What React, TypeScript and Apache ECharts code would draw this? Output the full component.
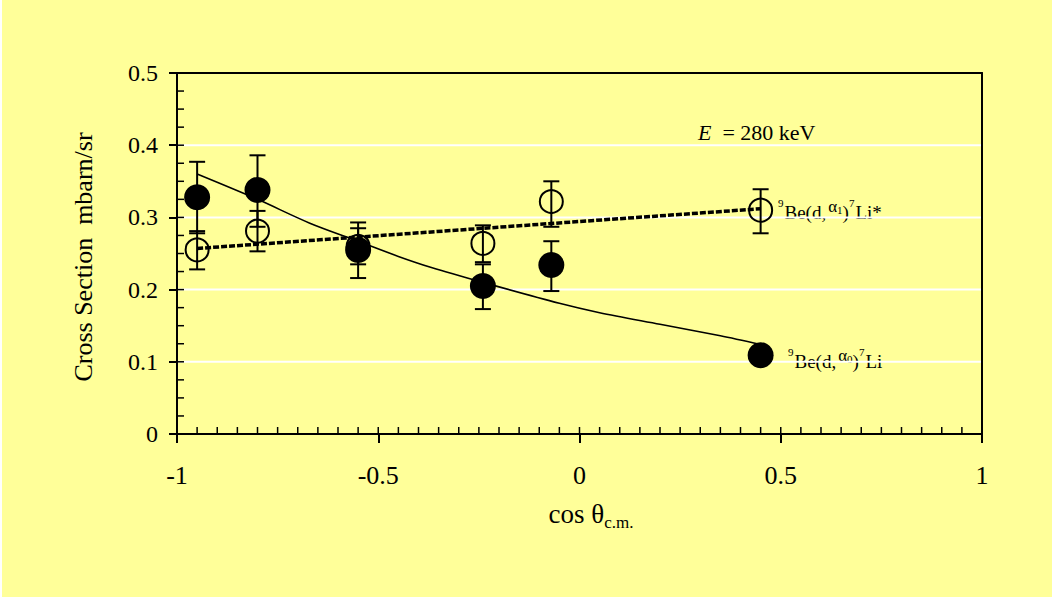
import React, { useEffect, useRef } from "react";
import * as echarts from "echarts";

// cos theta (c.m.) of the measured angles
const angles = [-0.95, -0.8, -0.55, -0.24, -0.07, 0.45];

// 9Be(d,alpha0)7Li  (filled circles)
const alpha0Y = [0.328, 0.338, 0.255, 0.205, 0.234, 0.109];
const alpha0Lo = [0.278, 0.287, 0.216, 0.173, 0.198, 0.097];
const alpha0Hi = [0.377, 0.386, 0.293, 0.235, 0.267, 0.121];

// 9Be(d,alpha1)7Li*  (open circles)
const alpha1Y = [0.255, 0.281, 0.26, 0.264, 0.322, 0.31];
const alpha1Lo = [0.228, 0.253, 0.235, 0.238, 0.287, 0.278];
const alpha1Hi = [0.281, 0.309, 0.285, 0.289, 0.35, 0.339];

// fitted curves
const fit0X = [-0.95, -0.8, -0.67, -0.55, -0.45, -0.37, -0.24, -0.05, 0.05, 0.2, 0.35, 0.45];
const fit0Y = [0.36, 0.325, 0.292, 0.267, 0.246, 0.231, 0.21, 0.181, 0.168, 0.152, 0.136, 0.124];
const fit1X = [-0.95, 0.45];
const fit1Y = [0.257, 0.312];

// axes
const xTicks = [-1, -0.5, 0, 0.5, 1];
const yTicks = [0, 0.1, 0.2, 0.3, 0.4, 0.5];

const SERIF = '"Liberation Serif", "Times New Roman", serif';

function errRender(params: any, api: any) {
  const x = api.value(0);
  const lo = api.value(1);
  const hi = api.value(2);
  const top = api.coord([x, hi]);
  const bot = api.coord([x, lo]);
  const w = 8;
  const style = { stroke: "#000", lineWidth: 2 };
  return {
    type: "group",
    children: [
      { type: "line", shape: { x1: top[0], y1: top[1], x2: bot[0], y2: bot[1] }, style },
      { type: "line", shape: { x1: top[0] - w, y1: top[1], x2: top[0] + w, y2: top[1] }, style },
      { type: "line", shape: { x1: bot[0] - w, y1: bot[1], x2: bot[0] + w, y2: bot[1] }, style },
    ],
  };
}

const labelRich = {
  n: { fontFamily: SERIF, fontSize: 19, fill: "#000", verticalAlign: "middle" },
  s: { fontFamily: SERIF, fontSize: 11, fill: "#000", verticalAlign: "middle", padding: [0, 1, 18, 0] },
  a: { fontFamily: SERIF, fontSize: 17, fill: "#000", verticalAlign: "middle", padding: [0, 0, 12, 2] },
  b: { fontFamily: SERIF, fontSize: 11, fill: "#000", verticalAlign: "middle", padding: [0, 0, 5, 0] },
};

export default function App() {
  const ref = useRef<HTMLDivElement>(null);

  useEffect(() => {
    document.body.style.margin = "0";
    const chart = echarts.init(ref.current!, null, { renderer: "svg" });

    const xMin = xTicks[0];
    const xMax = xTicks[xTicks.length - 1];
    const yMin = yTicks[0];
    const yMax = yTicks[yTicks.length - 1];

    const baseX = { type: "value", min: xMin, max: xMax, gridIndex: 0 };
    const baseY = { type: "value", min: yMin, max: yMax, gridIndex: 0 };

    const option: any = {
      animation: false,
      backgroundColor: "#ffffff",
      grid: { left: 177, right: 70, top: 73, bottom: 167, show: false },
      xAxis: [
        {
          ...baseX,
          position: "bottom",
          interval: 0.5,
          z: 1,
          axisLine: { show: true, onZero: false, lineStyle: { color: "#000", width: 2 } },
          axisTick: { show: true, inside: false, length: 9, lineStyle: { color: "#000", width: 2 } },
          minorTick: { show: false },
          axisLabel: {
            show: true,
            margin: 28,
            color: "#000",
            fontFamily: SERIF,
            fontSize: 26,
            formatter: (v: number) => String(v),
          },
          splitLine: { show: false },
        },
        {
          ...baseX,
          position: "top",
          interval: 0.5,
          z: 1,
          axisLine: { show: true, onZero: false, lineStyle: { color: "#000", width: 2 } },
          axisTick: { show: false },
          axisLabel: { show: false },
          splitLine: { show: false },
        },
      ],
      yAxis: [
        {
          ...baseY,
          position: "left",
          interval: 0.1,
          z: 1,
          axisLine: { show: true, onZero: false, lineStyle: { color: "#000", width: 2 } },
          axisTick: { show: true, inside: false, length: 8, lineStyle: { color: "#000", width: 2 } },
          axisLabel: {
            show: true,
            margin: 19,
            color: "#000",
            fontFamily: SERIF,
            fontSize: 24,
            formatter: (v: number) => String(Math.round(v * 10) / 10),
          },
          splitLine: { show: false },
        },
        {
          ...baseY,
          position: "right",
          interval: 0.1,
          z: 1,
          axisLine: { show: true, onZero: false, lineStyle: { color: "#000", width: 2 } },
          axisTick: { show: false },
          axisLabel: { show: false },
          splitLine: { show: false },
        },
      ],
      graphic: [
        {
          type: "rect",
          z: -10,
          silent: true,
          shape: { x: 2, y: 0, width: 1050, height: 597 },
          style: { fill: "#FFFF99" },
        },
        {
          type: "text",
          x: 83,
          y: 257,
          rotation: Math.PI / 2,
          style: {
            text: "Cross Section  mbarn/sr",
            font: `26px ${SERIF}`,
            fill: "#000",
            align: "center",
            verticalAlign: "middle",
          },
        },
        {
          type: "text",
          x: 591,
          y: 514,
          style: {
            text: "{a|cos θ}{b|c.m.}",
            align: "center",
            verticalAlign: "middle",
            rich: {
              a: { fontFamily: SERIF, fontSize: 27, fill: "#000", verticalAlign: "middle" },
              b: { fontFamily: SERIF, fontSize: 17, fill: "#000", verticalAlign: "middle", padding: [17, 0, 0, 0] },
            },
          },
        },
        {
          type: "text",
          x: 698,
          y: 132,
          style: {
            text: "{i|E}{n|  = 280 keV}",
            align: "left",
            verticalAlign: "middle",
            rich: {
              i: { fontFamily: SERIF, fontSize: 22, fontStyle: "italic", fill: "#000", verticalAlign: "middle" },
              n: { fontFamily: SERIF, fontSize: 22, fill: "#000", verticalAlign: "middle" },
            },
          },
        },
        {
          type: "text",
          x: 778,
          y: 212,
          style: {
            text: "{s|9}{n|Be(d,}{a|α}{b|1}{n|)}{s|7}{n|Li*}",
            align: "left",
            verticalAlign: "middle",
            rich: labelRich,
          },
        },
        {
          type: "text",
          x: 788,
          y: 361,
          style: {
            text: "{s|9}{n|Be(d,}{a|α}{b|0}{n|)}{s|7}{n|Li}",
            align: "left",
            verticalAlign: "middle",
            rich: labelRich,
          },
        },
      ],
      series: [
        {
          // white horizontal grid lines and inside minor ticks, placed through the axis scales
          type: "custom",
          name: "frame",
          xAxisIndex: 0,
          yAxisIndex: 0,
          silent: true,
          z: 1,
          data: [[0, 0]],
          renderItem: (params: any, api: any) => {
            const children: any[] = [];
            const left = api.coord([xMin, yMin]);
            const right = api.coord([xMax, yMax]);
            for (let k = 1; k < yTicks.length - 1; k++) {
              const p = api.coord([xMin, yTicks[k]]);
              children.push({
                type: "line",
                shape: { x1: left[0] + 1, y1: p[1], x2: right[0] - 1, y2: p[1] },
                style: { stroke: "#ffffff", lineWidth: 2 },
              });
            }
            for (let k = 0; k <= 40; k++) {
              const v = Math.round((xMin + k * 0.05) * 100) / 100;
              const p = api.coord([v, yMin]);
              children.push({
                type: "line",
                shape: { x1: p[0], y1: p[1], x2: p[0], y2: p[1] - 7 },
                style: { stroke: "#000", lineWidth: 1.5 },
              });
            }
            for (let k = 0; k <= 20; k++) {
              const v = Math.round((yMin + k * 0.025) * 1000) / 1000;
              const p = api.coord([xMin, v]);
              children.push({
                type: "line",
                shape: { x1: p[0], y1: p[1], x2: p[0] + 7, y2: p[1] },
                style: { stroke: "#000", lineWidth: 1.5 },
              });
            }
            return { type: "group", children };
          },
        },
        {
          type: "line",
          name: "fit alpha0",
          xAxisIndex: 0,
          yAxisIndex: 0,
          data: fit0X.map((x, i) => [x, fit0Y[i]]),
          smooth: 0.3,
          symbol: "none",
          silent: true,
          lineStyle: { color: "#000", width: 1.6 },
          z: 2,
        },
        {
          type: "line",
          name: "fit alpha1",
          xAxisIndex: 0,
          yAxisIndex: 0,
          data: fit1X.map((x, i) => [x, fit1Y[i]]),
          symbol: "none",
          silent: true,
          lineStyle: { color: "#000", width: 3.5, type: [6, 2] },
          z: 2,
        },
        {
          type: "scatter",
          name: "alpha1",
          xAxisIndex: 0,
          yAxisIndex: 0,
          data: angles.map((x, i) => [x, alpha1Y[i]]),
          symbol: "circle",
          symbolSize: 23,
          silent: true,
          itemStyle: { color: "rgba(0,0,0,0)", borderColor: "#000", borderWidth: 2, opacity: 1 },
          z: 3,
        },
        {
          type: "scatter",
          name: "alpha0",
          xAxisIndex: 0,
          yAxisIndex: 0,
          data: angles.map((x, i) => [x, alpha0Y[i]]),
          symbol: "circle",
          symbolSize: 26,
          silent: true,
          itemStyle: { color: "#000", opacity: 1 },
          z: 3,
        },
        {
          type: "custom",
          name: "err alpha1",
          xAxisIndex: 0,
          yAxisIndex: 0,
          data: angles.map((x, i) => [x, alpha1Lo[i], alpha1Hi[i]]),
          encode: { x: 0, y: [1, 2] },
          renderItem: errRender,
          silent: true,
          z: 4,
        },
        {
          type: "custom",
          name: "err alpha0",
          xAxisIndex: 0,
          yAxisIndex: 0,
          data: angles.map((x, i) => [x, alpha0Lo[i], alpha0Hi[i]]),
          encode: { x: 0, y: [1, 2] },
          renderItem: errRender,
          silent: true,
          z: 4,
        },
      ],
    };

    chart.setOption(option);
    return () => chart.dispose();
  }, []);

  return <div ref={ref} style={{ width: 1052, height: 601 }} />;
}
